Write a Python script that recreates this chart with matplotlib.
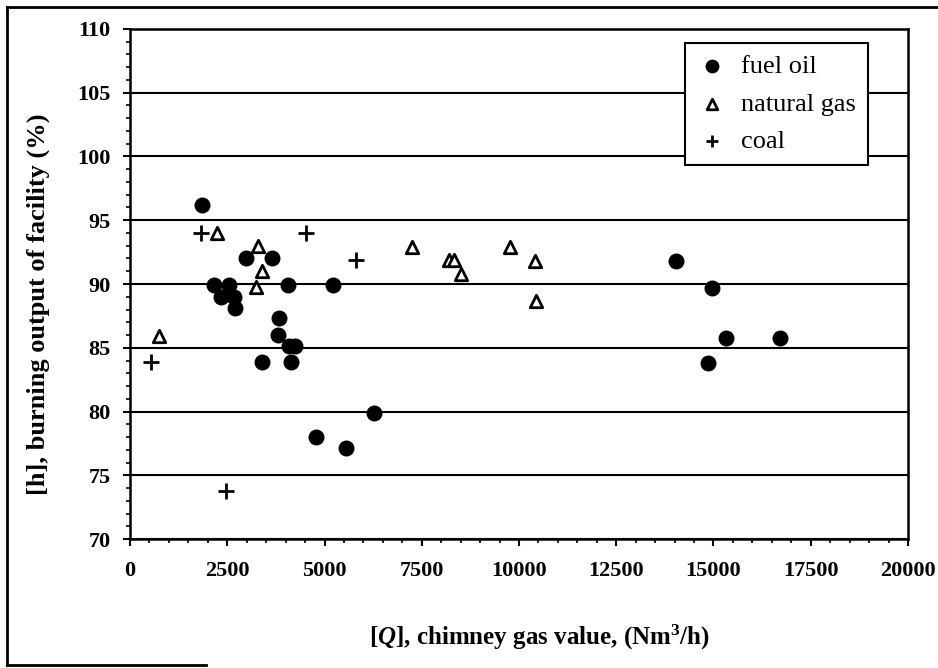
import matplotlib
matplotlib.use('Agg')
import matplotlib.pyplot as plt
from matplotlib.lines import Line2D
from matplotlib.ticker import MultipleLocator

plt.rcParams['font.family'] = ['Liberation Serif', 'DejaVu Serif']
plt.rcParams['mathtext.fontset'] = 'custom'
plt.rcParams['mathtext.rm'] = 'Liberation Serif'
plt.rcParams['mathtext.it'] = 'Liberation Serif:italic:bold'
plt.rcParams['mathtext.bf'] = 'Liberation Serif:bold'

# fuel oil
oil_q = [1850, 2980, 3640, 2150, 2550, 2340, 2680, 2700, 4050, 5230, 3840, 3810,
         4090, 4240, 3390, 4150, 6270, 4780, 5560, 14030, 14960, 15330, 16700, 14860]
oil_h = [96.2, 92.0, 92.0, 89.9, 89.9, 89.0, 89.0, 88.1, 89.9, 89.9, 87.3, 86.0,
         85.1, 85.1, 83.9, 83.9, 79.9, 78.0, 77.1, 91.8, 89.7, 85.8, 85.8, 83.8]

# natural gas
gas_q = [2230, 3280, 3400, 3230, 750, 7260, 8200, 8330, 8520, 9780, 10400, 10450]
gas_h = [94.0, 93.0, 91.0, 89.8, 85.9, 92.9, 91.9, 91.9, 90.8, 92.9, 91.8, 88.7]

# coal
coal_q = [1820, 4520, 5800, 540, 2460]
coal_h = [94.0, 94.0, 91.9, 83.9, 73.8]

fig = plt.figure(figsize=(9.38, 6.68), dpi=100)
ax = fig.add_axes([0.1386, 0.1931, 0.8294, 0.7635])

ax.scatter(oil_q, oil_h, s=110, marker='o', color='black', zorder=3, label='fuel oil')
ax.scatter(gas_q, gas_h, s=80, marker='^', facecolor='white', edgecolor='black',
           linewidth=2, zorder=3, label='natural gas')
ax.scatter(coal_q, coal_h, s=120, marker='+', color='black', linewidth=2, zorder=3,
           label='coal')

ax.set_xlim(0, 20000)
ax.set_ylim(70, 110)
ax.xaxis.set_major_locator(MultipleLocator(2500))
ax.xaxis.set_minor_locator(MultipleLocator(500))
ax.yaxis.set_major_locator(MultipleLocator(5))
ax.yaxis.set_minor_locator(MultipleLocator(1))
ax.tick_params(which='major', length=5, width=1.5, direction='out', labelsize=16)
ax.tick_params(axis='x', which='major', pad=11)
ax.tick_params(axis='y', which='major', pad=9)
ax.tick_params(which='minor', length=3, width=1.2, direction='out')
for lab in ax.get_xticklabels() + ax.get_yticklabels():
    lab.set_fontweight('bold')
ax.grid(axis='y', which='major', color='black', linewidth=1.5)
ax.set_axisbelow(True)
for sp in ax.spines.values():
    sp.set_linewidth(1.8)

ax.set_xlabel(r'[$Q$], chimney gas value, (Nm$^{\mathbf{3}}$/h)', fontsize=18,
              fontweight='bold')
ax.set_ylabel('[h], burning output of facility (%)', fontsize=19, fontweight='bold')
ax.xaxis.set_label_coords(0.526, -0.165)
ax.yaxis.set_label_coords(-0.103, 0.46)

leg = ax.legend(loc='upper right', bbox_to_anchor=(0.9486, 0.9725), borderaxespad=0,
                fontsize=19, frameon=True, fancybox=False, edgecolor='black',
                framealpha=1, handletextpad=0.5, handlelength=1.2, borderpad=0.45,
                labelspacing=0.52, markerscale=0.85)
leg.get_frame().set_linewidth(1.5)

# outer frame of the scanned figure
fig.add_artist(Line2D([0.0075, 0.0075], [0.005, 0.99], color='black', lw=2))
fig.add_artist(Line2D([0.0075, 1.0], [0.99, 0.99], color='black', lw=2))
fig.add_artist(Line2D([0.0075, 0.22], [0.005, 0.005], color='black', lw=2))

fig.savefig('out.png', dpi=100)
